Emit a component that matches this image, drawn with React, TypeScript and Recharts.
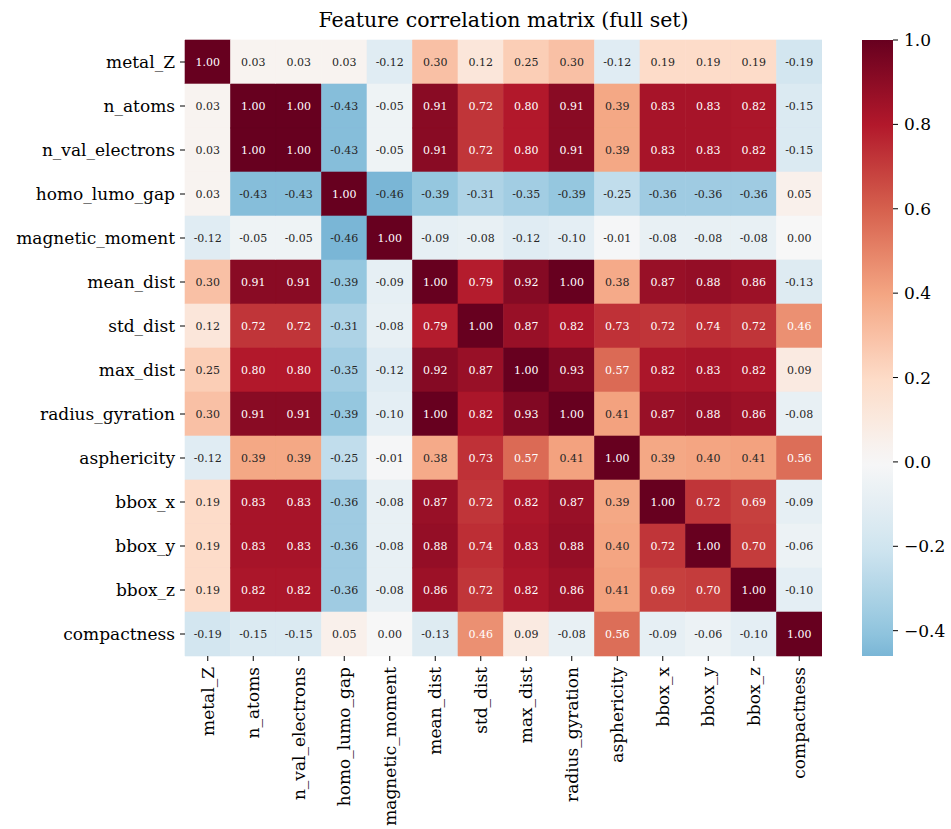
import React from "react";
import { BarChart, Bar, XAxis, YAxis, Cell, LabelList } from "recharts";

const features = [
  "metal_Z", "n_atoms", "n_val_electrons", "homo_lumo_gap", "magnetic_moment",
  "mean_dist", "std_dist", "max_dist", "radius_gyration", "asphericity",
  "bbox_x", "bbox_y", "bbox_z", "compactness",
];

const metalZ = [1.0, 0.03, 0.03, 0.03, -0.12, 0.3, 0.12, 0.25, 0.3, -0.12, 0.19, 0.19, 0.19, -0.19];
const nAtoms = [0.03, 1.0, 1.0, -0.43, -0.05, 0.91, 0.72, 0.8, 0.91, 0.39, 0.83, 0.83, 0.82, -0.15];
const nValElectrons = [0.03, 1.0, 1.0, -0.43, -0.05, 0.91, 0.72, 0.8, 0.91, 0.39, 0.83, 0.83, 0.82, -0.15];
const homoLumoGap = [0.03, -0.43, -0.43, 1.0, -0.46, -0.39, -0.31, -0.35, -0.39, -0.25, -0.36, -0.36, -0.36, 0.05];
const magneticMoment = [-0.12, -0.05, -0.05, -0.46, 1.0, -0.09, -0.08, -0.12, -0.1, -0.01, -0.08, -0.08, -0.08, 0.0];
const meanDist = [0.3, 0.91, 0.91, -0.39, -0.09, 1.0, 0.79, 0.92, 1.0, 0.38, 0.87, 0.88, 0.86, -0.13];
const stdDist = [0.12, 0.72, 0.72, -0.31, -0.08, 0.79, 1.0, 0.87, 0.82, 0.73, 0.72, 0.74, 0.72, 0.46];
const maxDist = [0.25, 0.8, 0.8, -0.35, -0.12, 0.92, 0.87, 1.0, 0.93, 0.57, 0.82, 0.83, 0.82, 0.09];
const radiusGyration = [0.3, 0.91, 0.91, -0.39, -0.1, 1.0, 0.82, 0.93, 1.0, 0.41, 0.87, 0.88, 0.86, -0.08];
const asphericity = [-0.12, 0.39, 0.39, -0.25, -0.01, 0.38, 0.73, 0.57, 0.41, 1.0, 0.39, 0.4, 0.41, 0.56];
const bboxX = [0.19, 0.83, 0.83, -0.36, -0.08, 0.87, 0.72, 0.82, 0.87, 0.39, 1.0, 0.72, 0.69, -0.09];
const bboxY = [0.19, 0.83, 0.83, -0.36, -0.08, 0.88, 0.74, 0.83, 0.88, 0.4, 0.72, 1.0, 0.7, -0.06];
const bboxZ = [0.19, 0.82, 0.82, -0.36, -0.08, 0.86, 0.72, 0.82, 0.86, 0.41, 0.69, 0.7, 1.0, -0.1];
const compactness = [-0.19, -0.15, -0.15, 0.05, 0.0, -0.13, 0.46, 0.09, -0.08, 0.56, -0.09, -0.06, -0.1, 1.0];

const matrix = [
  metalZ, nAtoms, nValElectrons, homoLumoGap, magneticMoment, meanDist, stdDist,
  maxDist, radiusGyration, asphericity, bboxX, bboxY, bboxZ, compactness,
];

const colorbarTicks = [-0.4, -0.2, 0.0, 0.2, 0.4, 0.6, 0.8, 1.0];
const vmin = -0.46;
const vmax = 1.0;

const FONT = "'DejaVu Serif', serif";

// RdBu_r colormap anchors
const rdbuR = [
  "#053061", "#2166ac", "#4393c3", "#92c5de", "#d1e5f0", "#f7f7f7",
  "#fddbc7", "#f4a582", "#d6604d", "#b2182b", "#67001f",
];
const hexToRgb = (h: string) => [
  parseInt(h.slice(1, 3), 16), parseInt(h.slice(3, 5), 16), parseInt(h.slice(5, 7), 16),
];
const cmapRgb = (t: number) => {
  const tt = Math.max(0, Math.min(1, t)) * (rdbuR.length - 1);
  const i = Math.min(rdbuR.length - 2, Math.floor(tt));
  const f = tt - i;
  const a = hexToRgb(rdbuR[i]);
  const b = hexToRgb(rdbuR[i + 1]);
  return a.map((v, k) => Math.round(v + (b[k] - v) * f));
};
// seaborn centre=0: symmetric range [-1, 1]
const valueRgb = (v: number) => cmapRgb((v + 1) / 2);
const rgbStr = (c: number[]) => `rgb(${c[0]},${c[1]},${c[2]})`;
const valueColor = (v: number) => rgbStr(valueRgb(v));
const lum = (c: number[]) => {
  const lin = c.map((x) => {
    const s = x / 255;
    return s <= 0.03928 ? s / 12.92 : Math.pow((s + 0.055) / 1.055, 2.4);
  });
  return 0.2126 * lin[0] + 0.7152 * lin[1] + 0.0722 * lin[2];
};
const textColor = (v: number) => (lum(valueRgb(v)) > 0.408 ? "#262626" : "#ffffff");

const rows = features.map((name) => {
  const row: any = { name };
  features.forEach((_, j) => {
    row[`c${j}`] = 1;
  });
  return row;
});

const colTicks = features.map((_, j) => j + 0.5);

const XTick = (props: any) => {
  const { x, y, payload } = props;
  const label = features[Math.round(payload.value - 0.5)];
  return (
    <text
      x={x}
      y={y + 4}
      transform={`rotate(-90, ${x}, ${y + 4})`}
      textAnchor="end"
      dominantBaseline="central"
      fontFamily={FONT}
      fontSize={17}
      fill="#000"
    >
      {label}
    </text>
  );
};

const YTick = (props: any) => {
  const { x, y, payload } = props;
  return (
    <text
      x={x - 3}
      y={y}
      textAnchor="end"
      dominantBaseline="central"
      fontFamily={FONT}
      fontSize={17}
      fill="#000"
    >
      {payload.value}
    </text>
  );
};

const CBTick = (props: any) => {
  const { x, y, payload } = props;
  const v = payload.value as number;
  const s = (v < 0 ? "\u2212" : "") + Math.abs(v).toFixed(1);
  return (
    <text x={x + 4} y={y} textAnchor="start" dominantBaseline="central" fontFamily={FONT} fontSize={17} fill="#000">
      {s}
    </text>
  );
};

const cbData = [{ name: "cb", range: [vmin, vmax] }];

const gradStops = Array.from({ length: 30 }, (_, k) => {
  const frac = k / 29;
  const v = vmax - frac * (vmax - vmin);
  return { offset: `${frac * 100}%`, color: valueColor(v) };
});

export default function App() {
  return (
    <div style={{ position: "absolute", left: 0, top: 0, width: 951, height: 829, background: "#fff" }}>
      <div
        style={{
          position: "absolute",
          left: 185,
          width: 637,
          top: 8,
          textAlign: "center",
          fontFamily: FONT,
          fontSize: 20.5,
          color: "#000",
          whiteSpace: "nowrap",
        }}
      >
        Feature correlation matrix (full set)
      </div>
      <div style={{ position: "absolute", left: 0, top: 0 }}>
        <BarChart
          width={822}
          height={829}
          data={rows}
          layout="vertical"
          margin={{ top: 40, right: 0, bottom: 0, left: 0 }}
          barCategoryGap={0}
          barGap={0}
        >
          <XAxis
            type="number"
            domain={[0, 14]}
            ticks={colTicks}
            interval={0}
            axisLine={false}
            tickLine={{ stroke: "#000" }}
            tickSize={5}
            height={173}
            tick={<XTick />}
          />
          <YAxis
            type="category"
            dataKey="name"
            width={185}
            axisLine={false}
            tickLine={{ stroke: "#000" }}
            tickSize={5}
            interval={0}
            tick={<YTick />}
          />
          {features.map((_, j) => (
            <Bar key={j} dataKey={`c${j}`} stackId="m" isAnimationActive={false}>
              {matrix.map((row, i) => (
                <Cell key={i} fill={valueColor(row[j])} stroke={valueColor(row[j])} strokeWidth={0.6} />
              ))}
              <LabelList
                content={(p: any) => {
                  const v = matrix[p.index][j];
                  return (
                    <text
                      x={p.x + p.width / 2}
                      y={p.y + p.height / 2}
                      textAnchor="middle"
                      dominantBaseline="central"
                      fontFamily={FONT}
                      fontSize={11}
                      fill={textColor(v)}
                    >
                      {v.toFixed(2)}
                    </text>
                  );
                }}
              />
            </Bar>
          ))}
        </BarChart>
      </div>
      <div style={{ position: "absolute", left: 862, top: 20 }}>
        <BarChart
          width={89}
          height={656}
          data={cbData}
          margin={{ top: 20, right: 0, bottom: 20, left: 0 }}
          barCategoryGap={0}
        >
          <defs>
            <linearGradient id="cbgrad" x1="0" y1="0" x2="0" y2="1">
              {gradStops.map((s, k) => (
                <stop key={k} offset={s.offset} stopColor={s.color} />
              ))}
            </linearGradient>
          </defs>
          <XAxis dataKey="name" hide />
          <YAxis
            type="number"
            orientation="right"
            domain={[vmin, vmax]}
            ticks={colorbarTicks}
            width={58}
            axisLine={false}
            tickLine={{ stroke: "#000" }}
            tickSize={5}
            interval={0}
            tick={<CBTick />}
            allowDataOverflow
          />
          <Bar dataKey="range" fill="url(#cbgrad)" isAnimationActive={false} />
        </BarChart>
      </div>
    </div>
  );
}
